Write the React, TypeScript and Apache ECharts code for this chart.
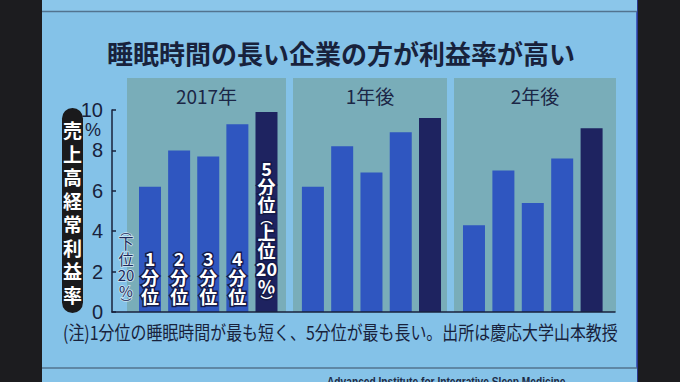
import React, { useEffect, useRef } from "react";
import * as echarts from "echarts";

// ---- data ----
const titleText = "睡眠時間の長い企業の方が利益率が高い";
const groups = ["2017年", "1年後", "2年後"];
const quintiles = ["1分位", "2分位", "3分位", "4分位", "5分位"];
const values2017 = [6.2, 8.0, 7.7, 9.3, 9.9];
const values1y = [6.2, 8.2, 6.9, 8.9, 9.6];
const values2y = [4.3, 7.0, 5.4, 7.6, 9.1];
const groupValues = [values2017, values1y, values2y];
const yTicks = [0, 2, 4, 6, 8, 10];
const yUnit = "%";
const yName = "売上高経常利益率";
const lowNote = "下位20%";
const highNote = "上位20%";
const footNote = "(注)1分位の睡眠時間が最も短く、5分位が最も長い。出所は慶応大学山本教授";
const sourceText = "Advanced Institute for Integrative Sleep Medicine";

// ---- layout / style ----
const CJK = '"Noto Sans CJK JP", "Noto Sans", sans-serif';
const NAVY = "#18223c";
const BG = "#84c2e8";
const PANEL = "#79adb9";
const BAR = "#2f56c0";
const BAR_DARK = "#1e2360";
const axisTop = 110;
const axisHeight = 202;
const panelTop = 78;
const panelHeight = 234;
const yMax = yTicks[yTicks.length - 1];
const panelYMax = (yMax * panelHeight) / axisHeight;
const panels = [
  { left: 127, width: 159, min: -0.79, max: 4.67 },
  { left: 293, width: 154, min: -0.68, max: 4.58 },
  { left: 454, width: 162, min: -0.68, max: 4.83 },
];

const tokens = (s: string) => s.match(/\d+|./g) || [];
const vertical = (s: string, style: string) =>
  tokens(s).map((t) => `{${style}|${t}}`).join("\n");
const vParen = (s: string, style: string, pstyle: string) =>
  `{${pstyle}|︵}\n` + vertical(s, style) + `\n{${pstyle}|︶}`;

export default function App() {
  const ref = useRef<HTMLDivElement>(null);
  useEffect(() => {
    document.body.style.margin = "0";
    const chart = echarts.init(ref.current!, null, { renderer: "svg" });

    const grids: any[] = panels.map((p) => ({
      left: p.left,
      width: p.width,
      top: panelTop,
      height: panelHeight,
      show: true,
      backgroundColor: PANEL,
      borderWidth: 0,
      z: 0,
    }));
    grids.push({ left: 112, width: 503, top: axisTop, height: axisHeight, show: false, z: 5 });

    const xAxes: any[] = panels.map((p, g) => ({
      type: "value",
      gridIndex: g,
      min: p.min,
      max: p.max,
      show: false,
    }));
    xAxes.push({
      type: "value",
      gridIndex: 3,
      min: 0,
      max: 1,
      z: 5,
      axisLine: { show: true, lineStyle: { color: NAVY, width: 1.5 } },
      axisTick: { show: false },
      axisLabel: { show: false },
      splitLine: { show: false },
    });
    const yAxes: any[] = panels.map((_, g) => ({
      type: "value",
      gridIndex: g,
      min: 0,
      max: panelYMax,
      show: false,
    }));
    yAxes.push({
      type: "value",
      gridIndex: 3,
      min: 0,
      max: yMax,
      interval: yTicks[1] - yTicks[0],
      z: 5,
      axisLine: { show: true, lineStyle: { color: NAVY, width: 1.5 } },
      axisTick: { show: true, inside: true, length: 4, lineStyle: { color: NAVY, width: 1.5 } },
      axisLabel: {
        color: NAVY,
        fontSize: 20,
        fontFamily: '"Liberation Sans", Arial, sans-serif',
        margin: 9,
      },
      splitLine: { show: false },
    });

    const common = {
      fontWeight: "bold",
      fontFamily: CJK,
      color: "#ffffff",
      textBorderColor: "#141a48",
      textBorderWidth: 3,
      align: "center",
    };
    const richLabel = {
      n: { ...common, fontSize: 18, lineHeight: 19 },
      m: { ...common, fontSize: 18, lineHeight: 18 },
      p: { ...common, fontSize: 12, lineHeight: 10 },
    };

    const series = groupValues.map((vals, g) => ({
      type: "bar",
      xAxisIndex: g,
      yAxisIndex: g,
      barWidth: 22,
      z: 3,
      data: vals.map((v, i) => ({
        value: [i, v],
        itemStyle: { color: i === vals.length - 1 ? BAR_DARK : BAR },
      })),
      label: {
        show: g === 0,
        position: "insideBottom",
        distance: 7,
        formatter: (p: any) => {
          const i = p.dataIndex;
          return i === quintiles.length - 1
            ? vertical(quintiles[i], "m") + "\n" + vParen(highNote, "m", "p")
            : vertical(quintiles[i], "n");
        },
        rich: richLabel,
      },
    }));

    const noteStyle = {
      fontFamily: CJK,
      fill: "#1c2a5c",
      stroke: "#cfe6f2",
      lineWidth: 1.5,
      align: "center",
    };

    const graphic: any[] = [
      // TV frame
      { type: "rect", shape: { x: 0, y: 0, width: 42, height: 382 }, style: { fill: "#1c1c1f" } },
      { type: "rect", shape: { x: 637, y: 0, width: 43, height: 382 }, style: { fill: "#1c1c1f" } },
      { type: "line", shape: { x1: 637, y1: 0, x2: 637, y2: 382 }, style: { stroke: "#2c3fb0", lineWidth: 1.5 } },
      { type: "rect", shape: { x: 42, y: 0, width: 595, height: 11 }, style: { fill: "#8bc6ea" } },
      { type: "line", shape: { x1: 42, y1: 11.5, x2: 637, y2: 11.5 }, style: { stroke: "#52738f", lineWidth: 1.5 } },
      { type: "rect", shape: { x: 42, y: 368, width: 595, height: 14 }, style: { fill: "#86c3e8" } },
      { type: "line", shape: { x1: 42, y1: 368, x2: 637, y2: 368 }, style: { stroke: "#52738f", lineWidth: 1.5 } },
      {
        type: "text",
        x: 327,
        y: 376,
        scaleX: 0.85,
        style: { text: sourceText, fill: "#1c2a44", font: 'bold 12px "Liberation Sans", sans-serif', verticalAlign: "top" },
      },
      // title
      {
        type: "text",
        x: 341,
        y: 52,
        style: { text: titleText, fill: NAVY, font: `bold 26px ${CJK}`, align: "center", verticalAlign: "middle" },
      },
      // group labels
      ...groups.map((t, g) => ({
        type: "text",
        x: panels[g].left + panels[g].width / 2,
        y: 95,
        z: 10,
        style: { text: t, fill: "#1b2646", font: `19px ${CJK}`, align: "center", verticalAlign: "middle" },
      })),
      // y axis name pill
      { type: "rect", shape: { x: 62, y: 108, width: 21, height: 205, r: 10.5 }, style: { fill: "#1a1a1c" } },
      {
        type: "text",
        x: 72.5,
        y: 212,
        style: {
          text: yName.split("").join("\n"),
          fill: "#ffffff",
          font: `bold 19px ${CJK}`,
          lineHeight: 23.5,
          align: "center",
          verticalAlign: "middle",
        },
      },
      // unit
      {
        type: "text",
        x: 93,
        y: 130,
        style: { text: yUnit, fill: NAVY, font: '18px "Liberation Sans", sans-serif', align: "center", verticalAlign: "middle" },
      },
      // (下位20%)
      {
        type: "text",
        x: 126,
        y: 307,
        z: 10,
        style: {
          text: vParen(lowNote, "m", "q"),
          align: "center",
          verticalAlign: "bottom",
          rich: {
            m: { ...noteStyle, fontSize: 15, lineHeight: 16 },
            q: { ...noteStyle, fontSize: 11, lineHeight: 9 },
          },
        },
      },
      // footnote
      {
        type: "text",
        x: 63,
        y: 332,
        scaleX: 0.84,
        style: { text: footNote, fill: NAVY, font: `19px ${CJK}`, verticalAlign: "middle" },
      },
    ];

    chart.setOption({
      animation: false,
      backgroundColor: BG,
      grid: grids,
      xAxis: xAxes,
      yAxis: yAxes,
      series,
      graphic,
    });
    return () => chart.dispose();
  }, []);
  return <div ref={ref} style={{ width: 680, height: 382 }} />;
}
